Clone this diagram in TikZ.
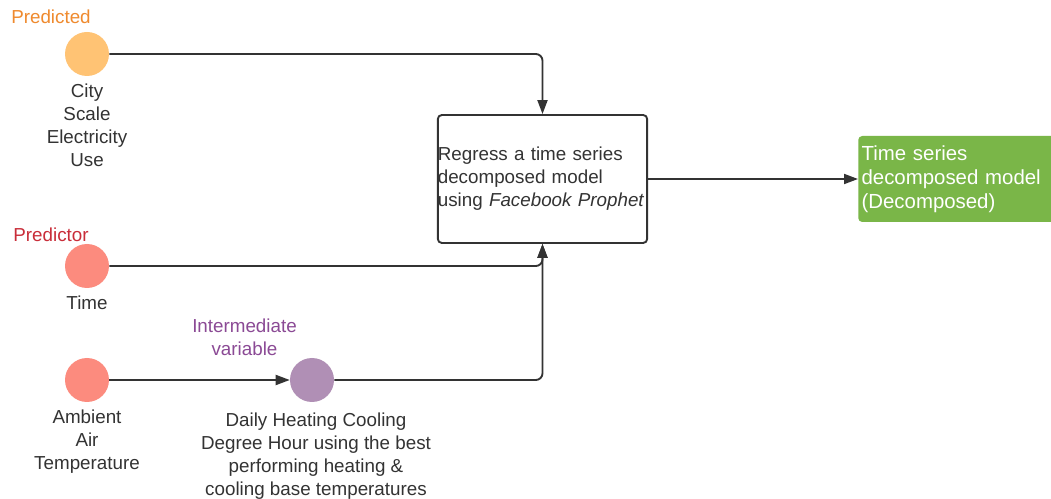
\documentclass[tikz,border=0pt]{standalone}
\usepackage{fontspec}
\setmainfont{Liberation Sans}
\usetikzlibrary{arrows.meta,calc}
\definecolor{txt}{HTML}{333333}
\definecolor{orfill}{HTML}{FFC374}
\definecolor{redfill}{HTML}{FC8B7E}
\definecolor{purfill}{HTML}{B08FB5}
\definecolor{orlab}{HTML}{EF8A2E}
\definecolor{redlab}{HTML}{C92D39}
\definecolor{purlab}{HTML}{8B4A95}
\definecolor{grn}{HTML}{7AB648}
\definecolor{line}{HTML}{333333}
\tikzset{
  x=0.75pt, y=-0.75pt,
  every node/.style={font=\fontsize{14.1}{17.25}\selectfont, text=txt},
  dot/.style={circle, minimum size=33pt, inner sep=0pt, draw=none},
  lab/.style={align=center, inner sep=0pt},
  conn/.style={draw=line, line width=1.4pt, rounded corners=5pt},
  arr/.style={conn, -{Triangle[length=10.5pt,width=7.5pt]}},
}
\begin{document}
\begin{tikzpicture}
\clip (0,0) rectangle (1051,499);
\fill[white] (0,0) rectangle (1051,499);

% nodes
\node[dot, fill=orfill] (pc) at (87,54) {};
\node[lab, text=orlab, anchor=center] (plab) at (51,17) {Predicted};
\node[lab, anchor=north] (ptxt) at (87,84) {City\\Scale\\Electricity\\Use};

\node[dot, fill=redfill] (tc) at (87,266) {};
\node[lab, text=redlab] (tlab) at (51,235) {Predictor};
\node[lab] (ttxt) at (87,303) {Time};

\node[dot, fill=redfill] (ac) at (87,380) {};
\node[lab, anchor=north] (atxt) at (87,410) {Ambient\\Air\\Temperature};

\node[dot, fill=purfill] (ic) at (312,380) {};
\node[lab, text=purlab, anchor=north] (ilab) at (244.5,318.5) {Intermediate\\variable};
\node[lab, anchor=north] (itxt) at (316,413) {Daily Heating Cooling\\Degree Hour using the best\\performing heating \&\\cooling base temperatures};

\node[draw=line, line width=1.4pt, rounded corners=3pt, minimum width=157pt, minimum height=96pt,
      text width=157pt, align=left, inner xsep=0pt, inner ysep=0pt] (bx) at (542.5,179)
      {Regress a time series\\decomposed model\\using \textit{Facebook Prophet}};

\node[fill=grn, rounded corners=3pt, minimum width=165pt, minimum height=64.5pt, text width=160pt,
      align=left, inner xsep=1.5pt, inner ysep=0pt, anchor=west, text=white,
      font=\fontsize{15.3}{18}\selectfont] (gb) at (858,179)
      {Time series\\decomposed model\\(Decomposed)};

% connectors
\draw[arr] (pc.east) -| (bx.north);
\draw[arr] (tc.east) -| (bx.south);
\draw[arr] (ac.east) -- (ic.west);
\draw[arr] (ic.east) -| (bx.south);
\draw[arr] (bx.east) -- (gb.west);
\end{tikzpicture}
\end{document}
